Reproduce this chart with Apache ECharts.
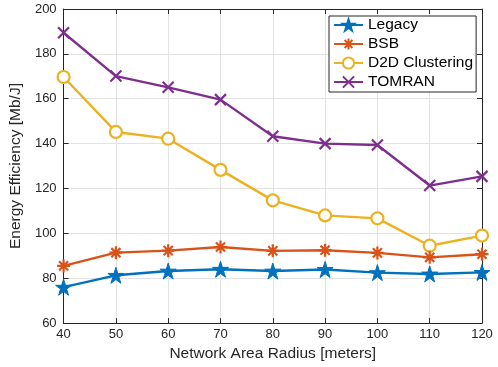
<!DOCTYPE html>
<html>
<head>
<meta charset="utf-8">
<script src="https://cdn.jsdelivr.net/npm/echarts@6/dist/echarts.min.js"></script>
<style>html,body{margin:0;padding:0;background:#fff;}#c{width:498px;height:367px;}</style>
</head>
<body>
<div id="c"></div>
<script>
const radius = [40, 50, 60, 70, 80, 90, 100, 110, 120];
const legacy = [76.0, 81.3, 83.2, 84.0, 83.2, 83.9, 82.5, 81.9, 82.6];
const bsb = [85.5, 91.4, 92.3, 93.9, 92.2, 92.5, 91.3, 89.3, 90.7];
const d2d = [169.7, 145.2, 142.2, 128.3, 114.7, 108.0, 106.7, 94.5, 99.0];
const tomran = [189.4, 170.1, 165.1, 159.6, 143.3, 140.0, 139.4, 121.3, 125.4];
const seriesNames = ['Legacy', 'BSB', 'D2D Clustering', 'TOMRAN'];
const colors = ['#0072BD', '#D95319', '#EDB120', '#7E2F8E'];

const FONT = '"Liberation Sans", Arial, sans-serif';
const starPath = 'path://M50,0 L61.2,34.5 L97.6,34.5 L68.2,55.9 L79.4,90.5 L50,69.1 L20.6,90.5 L31.8,55.9 L2.4,34.5 L38.8,34.5 Z';
const asteriskPath = 'path://M5,0L5,10M0,5L10,5M1.5,1.5L8.5,8.5M8.5,1.5L1.5,8.5';
const xPath = 'path://M0,0L10,10M10,0L0,10';

function pairs(vals) { return radius.map((r, i) => [r, vals[i]]); }

const symbolDefs = [
  { symbol: starPath, size: 16, fill: colors[0], bw: 1 },
  { symbol: asteriskPath, size: 13, fill: colors[1], bw: 2.2 },
  { symbol: 'circle', size: 12, fill: '#ffffff', bw: 2.2 },
  { symbol: xPath, size: 11, fill: colors[3], bw: 2.2 }
];
const allData = [legacy, bsb, d2d, tomran];

const series = allData.map((vals, i) => ({
  name: seriesNames[i],
  type: 'line',
  data: pairs(vals),
  symbol: symbolDefs[i].symbol,
  symbolSize: symbolDefs[i].size,
  showAllSymbol: true,
  z: 10 - i,
  lineStyle: { color: colors[i], width: 2.4 },
  itemStyle: { color: symbolDefs[i].fill, borderColor: colors[i], borderWidth: symbolDefs[i].bw },
  emphasis: { disabled: true },
  animation: false
}));

const axisCommon = {
  axisLine: { show: true, lineStyle: { color: '#262626', width: 1 } },
  axisTick: { show: true, inside: true, length: 5, lineStyle: { color: '#262626' } },
};

const chart = echarts.init(document.getElementById('c'), null, { renderer: 'canvas' });
chart.setOption({
  animation: false,
  backgroundColor: '#ffffff',
  grid: { left: 53, right: 16, top: 9, bottom: 36, containLabel: false },
  legend: {
    show: true,
    orient: 'vertical',
    left: 329, top: 16,
    backgroundColor: '#ffffff',
    borderColor: '#262626',
    borderWidth: 1,
    padding: [1, 3, 2, 4],
    itemGap: 3,
    itemWidth: 29,
    itemHeight: 14,
    textStyle: { fontFamily: FONT, fontSize: 15.5, color: '#000' },
    data: seriesNames
  },
  xAxis: [
    Object.assign({
      type: 'value', min: 40, max: 120, interval: 10, position: 'bottom',
      name: 'Network Area Radius [meters]', nameLocation: 'middle', nameGap: 21,
      nameTextStyle: { fontFamily: FONT, fontSize: 15.5, color: '#262626' },
      axisLabel: { fontFamily: FONT, fontSize: 13, color: '#262626', margin: 5 },
      splitLine: { show: true, lineStyle: { color: '#e3e3e3', width: 1 } }
    }, axisCommon),
    Object.assign({
      type: 'value', min: 40, max: 120, interval: 10, position: 'top',
      axisLabel: { show: false }, splitLine: { show: false }
    }, axisCommon)
  ],
  yAxis: [
    Object.assign({
      type: 'value', min: 60, max: 200, interval: 20, position: 'left',
      name: 'Energy Efficiency [Mb/J]', nameLocation: 'middle', nameGap: 28,
      nameTextStyle: { fontFamily: FONT, fontSize: 15.5, color: '#262626' },
      axisLabel: { fontFamily: FONT, fontSize: 13, color: '#262626', margin: 7 },
      splitLine: { show: true, lineStyle: { color: '#e3e3e3', width: 1 } }
    }, axisCommon),
    Object.assign({
      type: 'value', min: 60, max: 200, interval: 20, position: 'right',
      axisLabel: { show: false }, splitLine: { show: false }
    }, axisCommon)
  ],
  series: series
});
</script>
</body>
</html>
